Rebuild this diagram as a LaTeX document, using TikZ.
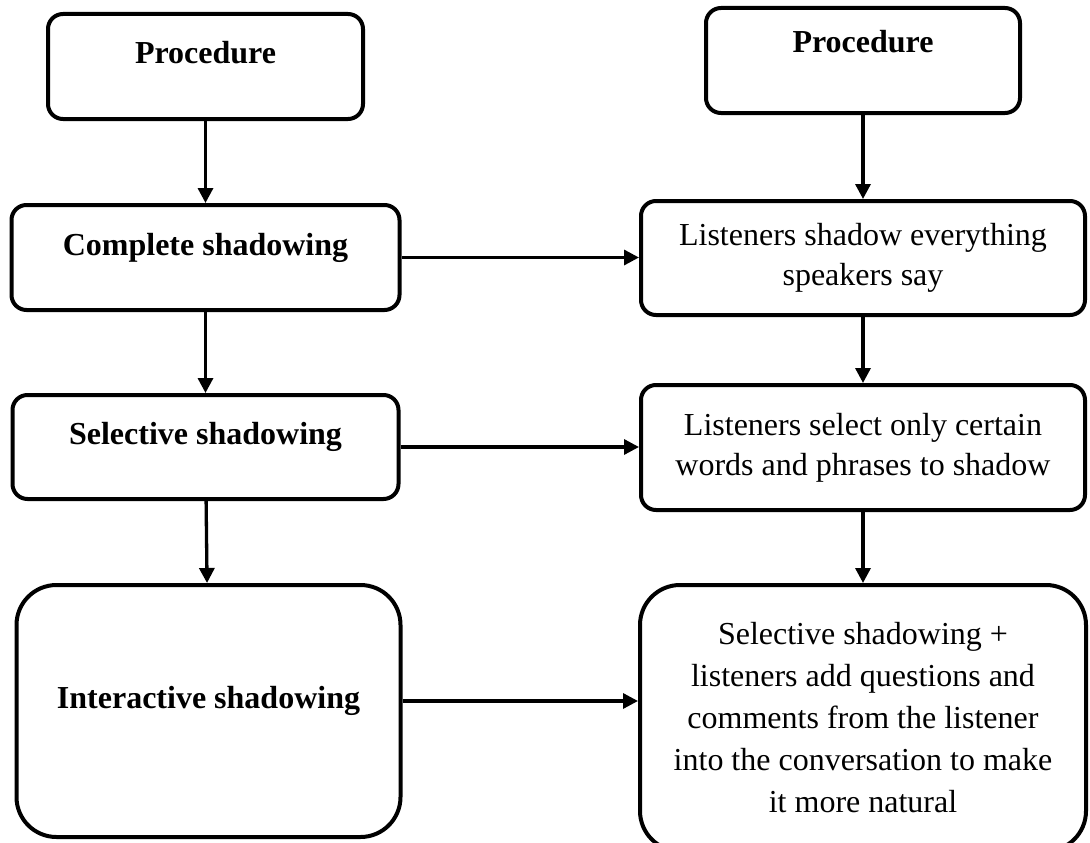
\documentclass[tikz,border=0pt]{standalone}
\usepackage{fontspec}
\setmainfont{Liberation Serif}
\usepackage{tikz}
\usetikzlibrary{arrows.meta, positioning, shapes}

\begin{document}
\begin{tikzpicture}[x=1pt, y=1pt, line width=3.3pt, >={Triangle[length=15pt, width=15pt]},
        box/.style={draw, rectangle, line width=4pt, rounded corners=15pt, align=center, font=\fontsize{32pt}{40pt}\selectfont},
        headbox/.style={box, font=\fontsize{32pt}{40pt}\selectfont\bfseries, text height=22pt, text depth=27pt}]
        \useasboundingbox (0,0) rectangle (1090,-843);

        % Procedure (left)
        \node (procleft) [headbox, minimum width=315pt, minimum height=105pt] at (205.5,-66.5) {Procedure};

        % Kinds of shadowing
        \node (complete) [headbox, minimum width=388pt, minimum height=105pt, below=82pt of procleft] {Complete shadowing};
        \node (selective) [headbox, minimum width=386pt, minimum height=104pt, below=81pt of complete] {Selective shadowing};
        \node (interactive) [headbox, rounded corners=40pt, minimum width=384pt, minimum height=252pt, below=82pt of selective, xshift=3pt] {Interactive shadowing};

        % Procedure (right)
        \node (procright) [headbox, text depth=37pt, minimum width=314pt, minimum height=105pt] at (863,-60.5) {Procedure};

        % Descriptions
        \node (everything) [box, minimum width=444pt, minimum height=114pt, below=84pt of procright] {Listeners shadow everything\\speakers say};
        \node (select) [box, minimum width=444pt, minimum height=125pt, below=66pt of everything] {Listeners select only certain\\words and phrases to shadow};
        \node (natural) [box, rounded corners=40pt, font=\fontsize{32pt}{42pt}\selectfont, minimum width=446pt, minimum height=266pt, below=71pt of select] {Selective shadowing +\\listeners add questions and\\comments from the listener\\into the conversation to make\\it more natural};

        % Arrows
        \draw[->] (procleft) -- (complete);
        \draw[->] (complete) -- (selective);
        \draw[->] (selective) -- (interactive);
        \draw[->] (procright) -- (everything);
        \draw[->] (everything) -- (select);
        \draw[->] (select) -- (natural);

        % Arrows across
        \draw[->] (complete.east) -- (complete.east -| everything.west);
        \draw[->] (selective.east) -- (selective.east -| select.west);
        \draw[->] ([yshift=10pt]interactive.east) -- ([yshift=10pt]interactive.east -| natural.west);
    \end{tikzpicture}
\end{document}
